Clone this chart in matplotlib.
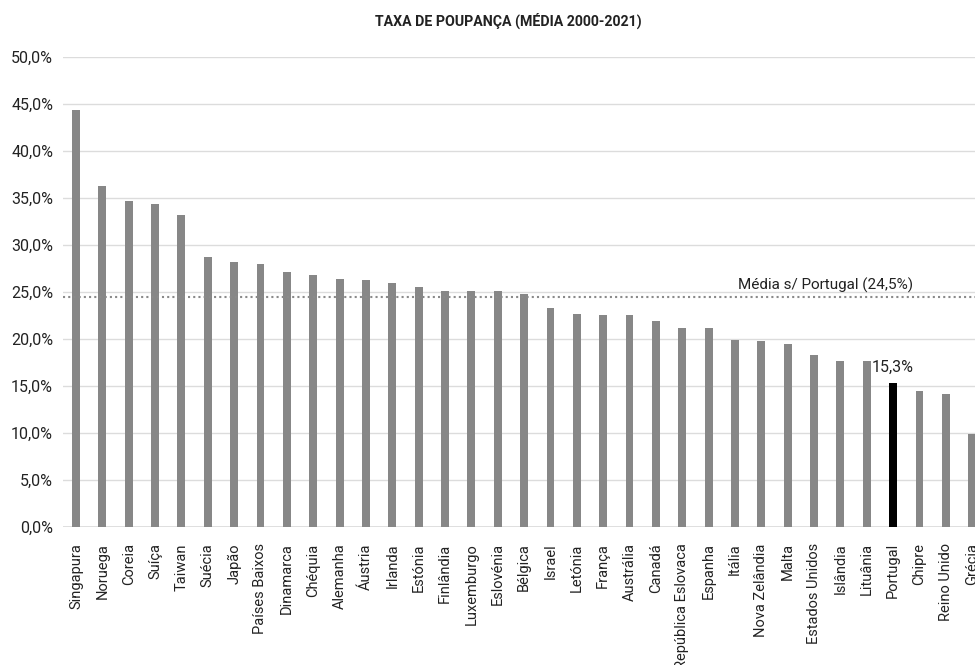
import matplotlib
matplotlib.use("Agg")
import matplotlib.pyplot as plt
from matplotlib.ticker import FuncFormatter, MultipleLocator

plt.rcParams["font.family"] = ["Roboto", "DejaVu Sans"]

# savings rate, average 2000-2021 (% of GDP)
paises = [
    "Singapura", "Noruega", "Coreia", "Suíça", "Taiwan", "Suécia", "Japão",
    "Países Baixos", "Dinamarca", "Chéquia", "Alemanha", "Áustria", "Irlanda",
    "Estónia", "Finlândia", "Luxemburgo", "Eslovénia", "Bélgica", "Israel",
    "Letónia", "França", "Austrália", "Canadá", "República Eslovaca", "Espanha",
    "Itália", "Nova Zelândia", "Malta", "Estados Unidos", "Islândia", "Lituânia",
    "Portugal", "Chipre", "Reino Unido", "Grécia",
]
taxa = [
    44.4, 36.3, 34.7, 34.4, 33.2, 28.7, 28.2,
    28.0, 27.1, 26.8, 26.4, 26.3, 26.0,
    25.5, 25.1, 25.1, 25.1, 24.8, 23.3,
    22.7, 22.5, 22.5, 21.9, 21.2, 21.2,
    19.9, 19.8, 19.5, 18.3, 17.7, 17.6,
    15.3, 14.5, 14.1, 9.9,
]
media_sem_pt = 24.5
destaque = "Portugal"

GREY = "#878787"
GRID = "#dcdcdc"
TXT = "#222222"

fig = plt.figure(figsize=(9.75, 6.65), dpi=100, facecolor="white")
# axes runs slightly past the right edge, last bar is cut by the frame
ax = fig.add_axes([62.8 / 975, 138.3 / 665, 922.6 / 975, 469.4 / 665])

x = list(range(len(paises)))
cores = ["black" if p == destaque else GREY for p in paises]
ax.bar(x, taxa, width=0.3, color=cores, zorder=3)

ax.set_xlim(-0.5, len(paises) - 0.5)
ax.set_ylim(0, 50)
ax.yaxis.set_major_locator(MultipleLocator(5))
ax.yaxis.set_major_formatter(FuncFormatter(lambda v, _: f"{v:.1f}%".replace(".", ",")))
ax.grid(axis="y", color=GRID, linewidth=1.0, zorder=0)
ax.axhline(0, color=GRID, linewidth=2.0, zorder=2)
for sp in ax.spines.values():
    sp.set_visible(False)

ax.set_xticks(x)
ax.set_xticklabels(paises, rotation=90, fontsize=10.5, color=TXT)
ax.tick_params(axis="x", length=0, pad=12)
ax.tick_params(axis="y", length=0, pad=7, labelsize=11.5, labelcolor=TXT)

# average excluding Portugal
ax.axhline(media_sem_pt, color="#8a8a8a", linewidth=1.5, linestyle=(0, (1, 1.5)), zorder=4)
ax.text(25.1, media_sem_pt + 0.35, f"Média s/ Portugal ({media_sem_pt:.1f}%)".replace(".", ","),
        fontsize=11, color=TXT, ha="left", va="bottom")

i_pt = paises.index(destaque)
ax.annotate(f"{taxa[i_pt]:.1f}%".replace(".", ","), (i_pt, taxa[i_pt]),
            xytext=(0, 6), textcoords="offset points",
            ha="center", va="bottom", fontsize=11.5, color=TXT)

fig.text(508 / 975, 1 - 21 / 665, "TAXA DE POUPANÇA (MÉDIA 2000-2021)",
         ha="center", va="center", fontsize=10.2, fontweight="bold", color=TXT)

fig.savefig("out.png", dpi=100, facecolor="white")
